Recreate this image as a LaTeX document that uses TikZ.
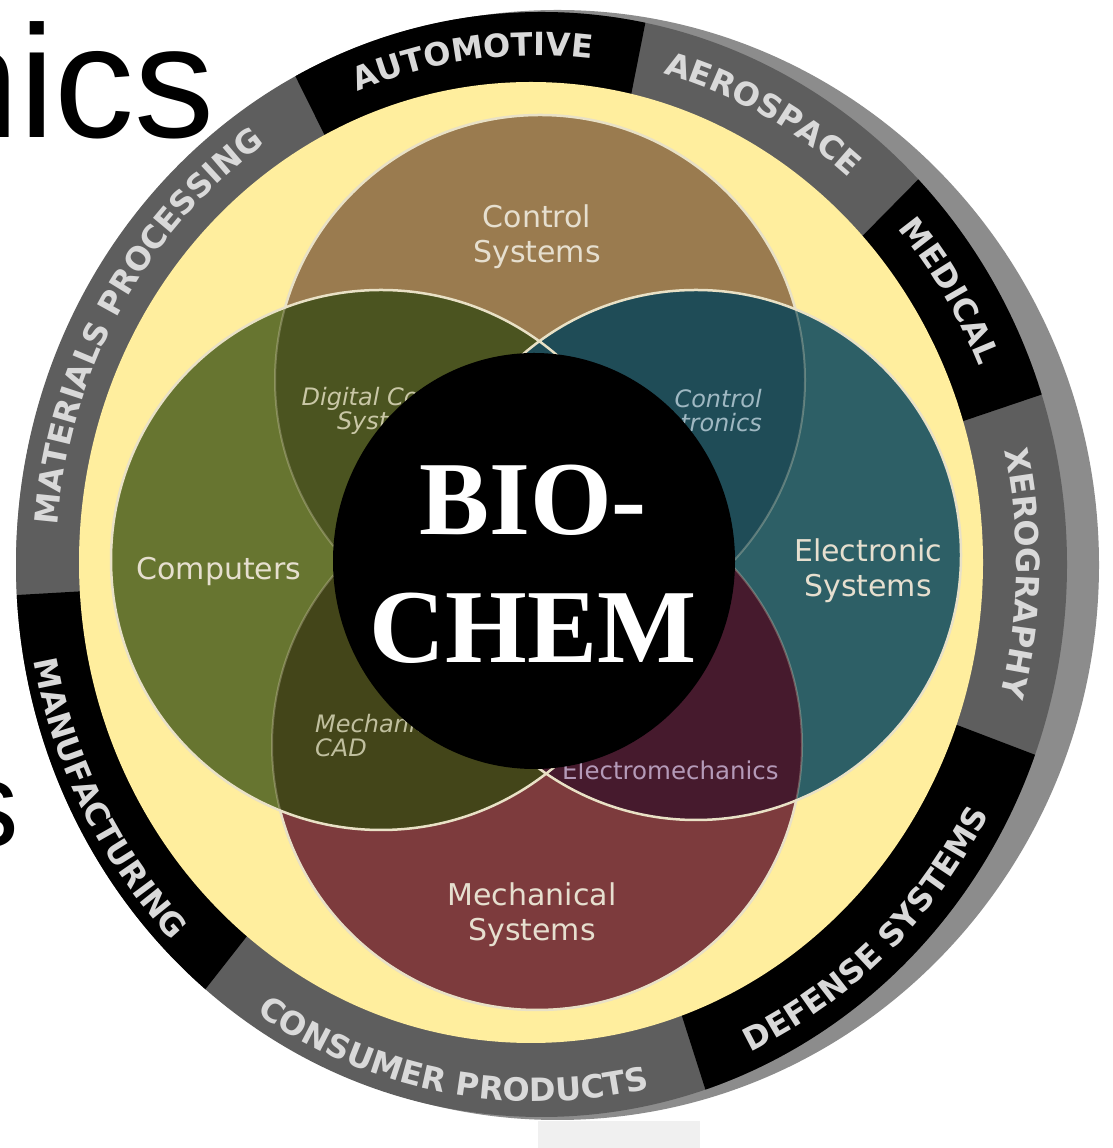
\documentclass[tikz,border=0pt]{standalone}
\usepackage{fontspec}
\setmainfont{DejaVu Sans}
\newfontfamily\bioserif{Liberation Serif}
\newfontfamily\slidesans{Liberation Sans}
\usetikzlibrary{decorations.text}

\definecolor{ctrlbrown}{HTML}{9A7B4F}
\definecolor{compgreen}{HTML}{677530}
\definecolor{electeal}{HTML}{2D5F66}
\definecolor{mechred}{HTML}{7D3B3D}
\definecolor{digolive}{HTML}{4B5420}
\definecolor{cadolive}{HTML}{434519}
\definecolor{tronteal}{HTML}{1F4C57}
\definecolor{emmaroon}{HTML}{461A2D}
\definecolor{ringyellow}{HTML}{FFEE9E}
\definecolor{bandgray}{HTML}{5E5E5E}
\definecolor{rimgray}{HTML}{8C8C8C}
\definecolor{bandtext}{HTML}{D9D9D9}
\definecolor{edgecream}{HTML}{E9E1C6}
\definecolor{labeltext}{HTML}{E6DFCF}
\definecolor{digtext}{HTML}{C9C7A6}
\definecolor{trontext}{HTML}{9FB8C2}
\definecolor{cadtext}{HTML}{C0BF9E}
\definecolor{emtext}{HTML}{B49AB8}

\newcommand\bandfont{\bfseries\fontsize{32}{32}\selectfont}

\begin{document}
\begin{tikzpicture}[x=1pt, y=1pt,
  bandlabel/.style={decorate, decoration={text along path, text align=center,
      text={|\bandfont\color{bandtext}|#1}}},
  field/.style={font=\fontsize{30}{35}\selectfont, text=labeltext, align=center, inner sep=0},
  overlap/.style={font=\itshape\fontsize{24}{24}\selectfont, inner sep=0},
  rimline/.style={draw=edgecream, line width=2.5}]
  \useasboundingbox (0,0) rectangle (1112,1148);
  \clip (0,0) rectangle (1112,1148);
  \fill[white] (0,0) rectangle (1112,1148);
  \fill[gray!12] (538,0) rectangle (700,27);

  % centres
  \coordinate (hub) at (538,583);
  \coordinate (lbl) at (536.5,584.5);
  \coordinate (ctrl) at (540,768);
  \coordinate (comp) at (381,588);
  \coordinate (elec) at (696,593);
  \coordinate (mech) at (537,403);

  % outer ring with application areas
  \fill[rimgray] (557.5,583) ellipse [x radius=541.5, y radius=555];
  \fill[bandgray] (541.5,583.5) ellipse [x radius=525.5, y radius=552.5];
  \begin{scope}
    \clip (541.5,583.5) ellipse [x radius=525.5, y radius=552.5];
    \foreach \a/\b in {78.8/116.4, 183.3/231.9, 287.7/339.1, 18.7/45.4}
      \fill[black] (hub) -- ++(\a:700) arc[start angle=\a, end angle=\b, radius=700] -- cycle;
  \end{scope}
  \fill[ringyellow] (531,585.5) ellipse [x radius=452, y radius=480.5];

  \path[bandlabel=AUTOMOTIVE] ([shift={(116.4:480 and 508)}]lbl)
    arc[start angle=116.4, end angle=78.8, x radius=480, y radius=508];
  \path[bandlabel=AEROSPACE] ([shift={(78.8:480 and 508)}]lbl)
    arc[start angle=78.8, end angle=45.4, x radius=480, y radius=508];
  \path[bandlabel=MEDICAL] ([shift={(45.4:480 and 508)}]lbl)
    arc[start angle=45.4, end angle=18.7, x radius=480, y radius=508];
  \path[bandlabel=XEROGRAPHY] ([shift={(18.7:480 and 508)}]lbl)
    arc[start angle=18.7, end angle=-20.9, x radius=480, y radius=508];
  \path[bandlabel=MATERIALS PROCESSING] ([shift={(183.3:480 and 508)}]lbl)
    arc[start angle=183.3, end angle=116.4, x radius=480, y radius=508];
  \path[bandlabel=MANUFACTURING] ([shift={(183.3:511 and 538)}]lbl)
    arc[start angle=183.3, end angle=231.9, x radius=511, y radius=538];
  \path[bandlabel=CONSUMER PRODUCTS] ([shift={(231.9:511 and 538)}]lbl)
    arc[start angle=231.9, end angle=287.7, x radius=511, y radius=538];
  \path[bandlabel=DEFENSE SYSTEMS] ([shift={(287.7:511 and 538)}]lbl)
    arc[start angle=287.7, end angle=339.1, x radius=511, y radius=538];

  % the four fields
  \fill[ctrlbrown, rimline] (ctrl) circle (265);
  \fill[mechred, rimline] (mech) circle (265);
  \fill[compgreen] (comp) circle (270);
  \fill[electeal] (elec) circle (265);
  \begin{scope}
    \clip (comp) circle (270);
    \fill[digolive] (ctrl) circle (265);
    \fill[cadolive] (mech) circle (265);
  \end{scope}
  \begin{scope}
    \clip (elec) circle (265);
    \fill[tronteal] (ctrl) circle (265);
    \fill[emmaroon] (mech) circle (265);
  \end{scope}
  \draw[edgecream, opacity=.3, line width=2] (ctrl) circle (265) (mech) circle (265);
  \draw[rimline] (comp) circle (270) (elec) circle (265);

  \node[field] (ctrllabel) at (537,911) {Control\\Systems};
  \node[field, anchor=base] (complabel) at (219,568) {Computers};
  \node[field] (eleclabel) at (868,577) {Electronic\\Systems};
  \node[field] (mechlabel) at (532,233) {Mechanical\\Systems};

  % overlaps
  \node[overlap, text=digtext, align=center] (digital) at (388,737) {Digital Control\\Systems};
  \node[overlap, text=trontext, align=right, anchor=east] (tronics) at (762,737) {Control\\Electronics};
  \node[overlap, text=cadtext, align=left, anchor=west] (cad) at (315,412) {Mechanical\\CAD};
  \node[inner sep=0, font=\fontsize{24.5}{24.5}\selectfont, text=emtext, anchor=base west] (emech) at (562,368) {Electromechanics};

  % centre
  \fill[black] (534,587) ellipse [x radius=201, y radius=208];
  \node[inner sep=0, text=white, align=center, font=\bioserif\bfseries\fontsize{105}{128}\selectfont] (biochem) at (533,584) {BIO-\\CHEM};

  % slide text behind
  \node[inner sep=0, anchor=base west, font=\slidesans\fontsize{160}{160}\selectfont] (nics) at (-70,1010) {nics};
  \node[inner sep=0, anchor=base west, font=\slidesans\fontsize{121}{121}\selectfont] (tail) at (-42,301) {s};
\end{tikzpicture}
\end{document}
